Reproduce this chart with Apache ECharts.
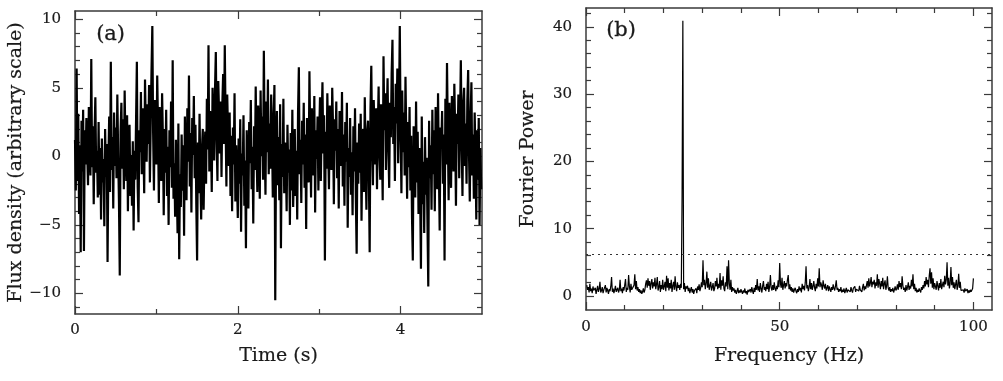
<!DOCTYPE html>
<html><head><meta charset="utf-8">
<script src="https://cdn.jsdelivr.net/npm/echarts@6/dist/echarts.min.js"></script>
<style>html,body{margin:0;padding:0;background:#fff}#c{width:1003px;height:381px}</style>
</head><body><div id="c"></div>
<script>
// ---- Panel (a): time series, sample step 0.01 s ----
const timeStep = 0.01;
const flux = [
1.2,-2.5,6.4,-1.8,3.1,-4.2,0.8,-7.0,2.6,-1.1,
3.4,-6.9,1.9,-0.6,2.8,0.3,-2.1,3.6,1.0,-1.4,
7.1,-0.8,2.2,-3.5,1.6,4.3,-1.2,0.4,-3.0,2.5,
-2.8,0.6,-4.6,1.3,-1.9,-0.2,-5.1,2.0,-1.5,0.9,
-7.7,-0.4,2.9,-2.6,6.9,-1.0,1.4,-3.8,3.2,-0.7,
2.1,-1.6,4.5,0.2,-3.3,-8.7,1.8,3.9,-0.9,2.7,
-2.4,4.8,0.6,-1.8,3.0,-4.0,1.5,2.3,-2.9,0.1,
-3.6,1.1,-5.4,0.4,-1.7,2.6,6.9,-2.2,-4.8,1.9,
0.3,4.7,-1.3,3.5,1.2,-2.7,5.6,2.0,-0.4,3.8,
0.9,5.2,-1.9,2.4,6.3,9.5,1.6,-2.5,4.1,3.0,
-0.6,5.9,2.2,-3.4,3.6,0.5,-1.8,4.6,1.3,-4.3,
2.0,-1.2,3.4,-2.9,0.7,-5.0,1.9,-0.8,4.0,-2.3,
7.0,-3.1,-0.5,-4.4,1.2,-2.0,-5.6,2.4,-7.5,-1.3,
-3.7,1.6,-2.5,0.8,-5.8,2.9,-1.0,-3.2,3.5,-0.4,
5.9,-2.2,1.7,-4.1,2.8,0.1,4.4,-1.6,2.3,-3.5,
-7.6,1.0,-2.7,3.1,-1.4,-4.6,0.6,2.0,-3.9,-0.2,
1.8,-2.0,4.2,0.5,8.1,-1.1,3.3,1.4,-2.6,5.0,
2.6,-0.3,4.9,7.6,1.2,-1.8,5.5,3.1,0.2,4.0,
-1.5,3.8,6.0,0.9,8.1,2.5,-2.2,4.5,1.7,-0.7,
3.2,-2.9,1.5,-4.0,2.1,-0.6,4.6,-3.3,0.8,-1.9,
-4.5,1.3,-2.0,2.7,-5.5,0.2,-1.4,3.0,-3.6,-0.3,
-6.7,1.9,-1.1,-3.8,2.5,-0.5,4.1,-2.4,0.7,-4.9,
2.2,-1.0,5.1,0.4,-2.6,3.7,1.6,-3.1,4.8,0.0,
2.9,-1.7,7.7,1.1,-2.8,4.0,0.3,5.6,-1.3,2.4,
-0.9,4.5,1.8,-3.0,2.6,5.2,-10.5,0.6,3.3,-2.1,
1.4,-3.2,3.8,-6.7,0.9,-1.5,4.2,-2.7,1.0,-0.3,
-4.0,2.3,-1.2,0.5,-5.0,1.7,-2.5,3.4,-3.7,-0.8,
2.0,-2.9,0.4,-4.6,3.1,6.5,-1.3,1.2,-3.4,2.6,
-0.6,3.9,-2.3,1.6,-5.3,2.8,0.1,-1.9,6.2,1.0,
-3.0,3.5,0.7,-1.4,4.4,-4.1,1.9,-0.2,2.9,-2.5,
1.5,4.3,-1.8,2.4,5.4,0.2,3.0,-7.6,1.8,-0.9,
4.6,0.8,-2.4,3.7,1.3,-1.0,5.0,2.2,-3.5,2.7,
0.4,4.0,-1.6,2.0,-3.8,3.3,0.9,-0.7,4.7,-2.2,
1.6,-3.6,2.5,-0.4,3.9,-5.2,0.6,-1.5,2.8,-2.8,
0.3,-4.3,2.2,-1.1,3.5,-3.0,-7.1,1.0,-2.0,2.4,
-1.2,3.1,-4.7,0.9,2.0,-2.6,4.3,-0.5,-3.9,1.8,
2.6,-1.3,-7.0,3.4,6.6,0.8,-2.1,4.1,1.5,-0.6,
3.5,-2.4,2.0,5.1,0.4,-1.7,3.8,1.1,-3.2,7.3,
1.9,4.6,-1.0,2.8,5.7,0.6,-2.3,3.9,1.4,6.0,
8.5,0.9,3.6,-1.8,5.3,2.4,6.4,-0.5,3.0,9.5,
2.0,-2.7,4.8,0.3,3.2,-1.4,5.8,1.2,-3.1,2.5,
-0.8,3.6,-2.5,1.5,-4.4,-7.6,2.2,0.1,-3.0,4.0,
-1.9,1.8,-4.2,0.6,-2.6,-8.2,2.9,-3.5,-0.4,-5.6,
1.4,-2.8,-0.1,-4.8,-9.5,2.6,-1.6,0.8,-3.9,3.4,
-1.3,1.9,-4.0,3.6,0.2,-2.4,4.6,-0.9,-5.4,2.1,
0.7,3.3,-2.0,1.6,-7.6,4.2,-0.6,6.8,1.8,-3.2,
3.9,0.5,-2.3,4.4,1.7,-1.1,5.3,2.0,-3.6,3.1,
0.9,4.5,-1.6,2.6,7.0,1.2,-2.9,3.8,5.0,-0.7,
2.4,-2.0,4.1,6.3,0.3,-3.3,2.7,5.4,-1.4,1.6,
-3.1,3.2,-0.2,-4.6,1.9,-1.7,2.8,-5.0,0.6,-2.4
];
const aXMajor = [0, 2, 4];
const aXMinor = [1, 3];
const aYMajor = [-10, -5, 0, 5, 10];
const aYMinor = [-11,-9,-8,-7,-6,-4,-3,-2,-1,1,2,3,4,6,7,8,9];

// ---- Panel (b): Fourier power, bin step 0.2 Hz (first bin 0.2 Hz) ----
const freqStep = 0.2;
const power = [
1.6,0.9,1.3,0.5,1.8,0.7,1.1,0.4,1.4,0.8,
0.6,1.2,0.3,0.9,1.5,0.6,1.0,2.1,0.5,0.8,
1.3,0.4,0.9,0.7,1.6,0.5,1.2,0.8,0.3,1.0,
0.7,1.4,2.8,0.6,1.1,0.4,0.9,1.5,0.6,0.8,
1.2,0.5,0.9,2.4,0.7,1.1,0.4,1.3,0.8,1.0,
2.5,0.6,1.2,0.9,3.1,1.4,0.5,1.8,0.9,1.1,
0.7,1.6,3.2,1.0,2.2,0.8,1.3,0.6,1.0,0.4,
0.8,0.3,0.6,1.1,0.5,0.9,1.8,2.3,1.2,2.6,
1.5,2.2,0.9,1.9,2.5,1.1,2.0,1.4,2.7,1.0,
1.7,2.8,0.8,1.3,2.2,0.6,1.6,1.0,2.4,0.9,
1.4,2.1,0.7,3.0,1.2,2.6,0.8,1.9,1.1,2.4,
0.6,1.5,2.1,0.9,2.9,1.3,0.7,2.0,1.2,1.6,
0.9,1.8,1.2,14.8,40.9,1.0,1.9,0.6,1.4,1.1,
1.5,0.7,1.2,0.4,0.9,1.3,0.5,1.0,0.3,0.8,
0.6,1.1,0.4,1.4,0.9,1.7,0.7,1.2,2.0,1.3,
5.3,1.6,2.4,1.0,1.8,3.6,1.2,2.6,0.9,1.5,
2.1,0.8,1.3,1.9,0.7,1.1,2.2,1.4,2.7,1.0,
1.8,1.2,3.4,0.9,2.3,1.5,2.9,1.1,0.7,2.0,
1.4,4.4,1.0,5.3,1.8,0.9,2.4,0.6,1.3,0.8,
1.1,0.5,0.9,0.3,0.7,1.2,0.4,0.8,0.5,1.0,
0.6,0.3,0.8,0.5,1.1,0.4,0.7,0.2,0.9,0.6,
0.4,1.0,0.5,1.3,0.7,0.3,1.2,0.6,1.6,0.9,
2.5,0.8,1.4,0.6,1.9,1.1,0.5,1.5,2.2,0.9,
1.3,0.7,1.8,1.0,2.1,0.6,1.4,3.1,1.2,0.8,
1.6,0.9,2.0,1.1,0.7,1.5,1.0,2.3,1.3,4.9,
1.8,1.2,2.7,0.9,1.6,2.2,1.1,1.9,1.4,2.4,
3.1,1.0,1.7,0.8,1.3,0.6,1.1,0.5,0.9,1.2,
0.7,0.4,1.0,0.6,1.4,0.8,1.2,0.5,1.8,1.0,
1.5,0.8,2.0,4.4,1.1,1.6,0.7,1.3,2.5,1.0,
1.9,0.9,1.4,2.2,1.2,0.7,1.8,1.1,2.6,1.4,
4.1,1.3,2.0,1.6,0.9,2.3,1.5,1.1,1.8,0.8,
1.2,1.6,0.7,1.4,1.0,0.6,1.3,0.9,1.7,1.1,
0.8,1.5,2.3,0.9,1.2,0.6,1.0,0.7,1.3,0.5,
0.9,0.6,1.1,0.4,0.8,1.2,0.5,0.9,0.7,1.0,
0.6,1.3,0.8,0.5,1.1,0.9,1.4,0.6,1.0,0.8,
1.2,0.7,1.5,0.9,1.1,0.6,1.3,1.8,0.8,1.4,
1.0,1.6,2.2,1.2,2.6,1.4,1.9,2.8,1.3,2.1,
1.7,2.4,1.1,2.0,1.5,3.2,1.2,2.5,1.8,1.0,
2.2,1.4,2.7,1.0,1.8,2.3,0.9,1.5,2.9,1.2,
0.8,1.3,0.6,1.0,0.7,1.2,0.5,0.9,1.4,0.8,
1.1,1.7,0.9,2.2,1.3,1.9,1.0,2.9,1.5,0.9,
1.2,0.6,1.6,0.8,1.3,2.0,0.9,1.5,1.1,2.4,
1.4,3.2,1.0,1.8,0.7,1.2,0.5,0.9,0.6,1.1,
0.8,0.5,1.3,0.9,1.6,1.1,2.2,1.4,2.8,1.7,
2.4,1.3,3.0,4.1,1.8,3.5,1.2,2.6,1.0,1.9,
1.4,0.9,2.2,1.5,0.8,1.9,1.2,2.5,1.0,1.6,
2.1,1.3,3.0,1.7,2.4,5.0,1.5,2.7,1.1,1.9,
4.3,1.6,2.8,1.2,2.0,1.0,1.7,2.4,0.9,1.5,
3.3,1.2,2.1,0.8,1.0,0.6,0.9,0.5,1.1,0.7,
0.6,1.0,0.4,0.8,0.5,0.9,0.6,0.7,1.1,2.6
];
const detectionLevel = 6.2;
const bXMajor = [0, 50, 100];
const bXMinor = [10, 20, 30, 40, 60, 70, 80, 90];
const bYMajor = [0, 10, 20, 30, 40];
const bYMinor = [2,4,6,8,12,14,16,18,22,24,26,28,32,34,36,38,42];

const FONT = 'DejaVu Serif';
const TXT = '#1a1a1a';
const FRAME = '#3a3a3a';
const titleStyle = { fontFamily: FONT, fontSize: 19, color: TXT, textBorderColor: TXT, textBorderWidth: 0.2 };

function axisSet(grid, pos, min, max, vals, len, withLine, label, labelMargin) {
  return {
    type: 'value', gridIndex: grid, position: pos, min: min, max: max,
    axisLine: { show: withLine, onZero: false, lineStyle: { color: FRAME, width: 1.5 } },
    axisTick: { show: true, inside: true, length: len, customValues: vals,
                lineStyle: { color: FRAME, width: 1.2 } },
    axisLabel: label ? { show: true, customValues: vals, margin: labelMargin,
                fontFamily: FONT, fontSize: 15, color: TXT,
                textBorderColor: TXT, textBorderWidth: 0.2,
                formatter: v => (v < 0 ? '\u2212' + Math.abs(v) : String(v)) } : { show: false },
    splitLine: { show: false }
  };
}

const xAxes = [
  Object.assign(axisSet(0,'bottom',0,5,aXMajor,8,true,true,9),
    { name: 'Time (s)', nameLocation: 'middle', nameGap: 33, nameTextStyle: titleStyle }),
  axisSet(0,'bottom',0,5,aXMinor,5,false,false),
  axisSet(0,'top',0,5,aXMajor,8,true,false),
  axisSet(0,'top',0,5,aXMinor,5,false,false),
  Object.assign(axisSet(1,'bottom',0,104.8,bXMajor,8,true,true,10),
    { name: 'Frequency (Hz)', nameLocation: 'middle', nameGap: 37, nameTextStyle: titleStyle }),
  axisSet(1,'bottom',0,104.8,bXMinor,5,false,false),
  axisSet(1,'top',0,104.8,bXMajor,8,true,false),
  axisSet(1,'top',0,104.8,bXMinor,5,false,false)
];
const yAxes = [
  Object.assign(axisSet(0,'left',-11.5,10.6,aYMajor,8,true,true,14),
    { name: 'Flux density (arbitrary scale)', nameLocation: 'middle', nameGap: 46, nameTextStyle: titleStyle }),
  axisSet(0,'left',-11.5,10.6,aYMinor,5,false,false),
  axisSet(0,'right',-11.5,10.6,aYMajor,8,true,false),
  axisSet(0,'right',-11.5,10.6,aYMinor,5,false,false),
  Object.assign(axisSet(1,'left',-2.1,42.8,bYMajor,8,true,true,14),
    { name: 'Fourier Power', nameLocation: 'middle', nameGap: 48, nameTextStyle: titleStyle }),
  axisSet(1,'left',-2.1,42.8,bYMinor,5,false,false),
  axisSet(1,'right',-2.1,42.8,bYMajor,8,true,false),
  axisSet(1,'right',-2.1,42.8,bYMinor,5,false,false)
];

const chart = echarts.init(document.getElementById('c'), null, { renderer: 'canvas' });
chart.setOption({
  animation: false,
  backgroundColor: '#fff',
  grid: [
    { left: 75, top: 11, width: 407, height: 303 },
    { left: 586, top: 8, width: 406, height: 302 }
  ],
  xAxis: xAxes,
  yAxis: yAxes,
  graphic: [
    { type: 'text', left: 96, top: 24, style: { text: '(a)', font: '21px "DejaVu Serif"', fill: TXT, stroke: TXT, lineWidth: 0.3 } },
    { type: 'text', left: 606, top: 20, style: { text: '(b)', font: '21px "DejaVu Serif"', fill: TXT, stroke: TXT, lineWidth: 0.3 } }
  ],
  series: [
    { type: 'line', xAxisIndex: 0, yAxisIndex: 0, symbol: 'none', silent: true,
      data: flux.map((v, i) => [i * timeStep, v]),
      lineStyle: { color: '#000', width: 2.2 } },
    { type: 'line', xAxisIndex: 4, yAxisIndex: 4, symbol: 'none', silent: true,
      data: power.map((v, i) => [(i + 1) * freqStep, v]),
      lineStyle: { color: '#000', width: 1.2 },
      markLine: { symbol: 'none', silent: true, label: { show: false },
        lineStyle: { color: '#333', width: 1, type: [2, 4] },
        data: [{ yAxis: detectionLevel }] } }
  ]
});
</script>
</body></html>
